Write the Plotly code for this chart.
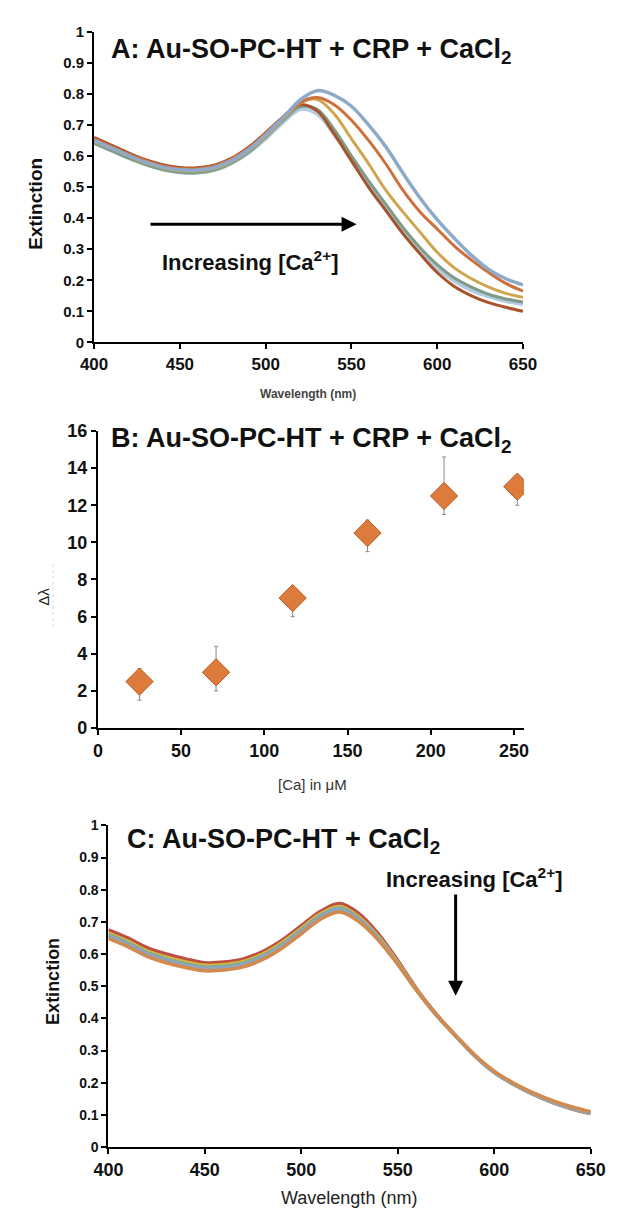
import plotly.graph_objects as go

W, H = 618, 1217

# ---------------- Panel A data ----------------
wl = [400, 410, 420, 430, 440, 450, 460, 470, 480, 490, 500, 510, 520,
      530, 540, 550, 560, 570, 580, 590, 600, 610, 620, 630, 640, 650]

a_lblue = [0.645, 0.620, 0.596, 0.575, 0.558, 0.550, 0.548, 0.556, 0.578, 0.612, 0.658, 0.710, 0.752,
           0.738, 0.672, 0.590, 0.505, 0.430, 0.360, 0.295, 0.240, 0.200, 0.170, 0.150, 0.135, 0.125]
a_brown = [0.660, 0.635, 0.610, 0.588, 0.572, 0.563, 0.562, 0.570, 0.592, 0.628, 0.675, 0.725, 0.765,
           0.745, 0.670, 0.585, 0.500, 0.425, 0.350, 0.285, 0.225, 0.180, 0.150, 0.128, 0.113, 0.100]
a_green = [0.640, 0.617, 0.593, 0.572, 0.556, 0.547, 0.546, 0.555, 0.577, 0.612, 0.660, 0.713, 0.758,
           0.750, 0.685, 0.600, 0.520, 0.445, 0.370, 0.305, 0.250, 0.207, 0.178, 0.155, 0.140, 0.130]
a_gold = [0.648, 0.624, 0.600, 0.578, 0.562, 0.553, 0.552, 0.560, 0.582, 0.617, 0.664, 0.718, 0.770,
          0.782, 0.735, 0.655, 0.575, 0.490, 0.420, 0.355, 0.290, 0.240, 0.205, 0.178, 0.158, 0.145]
a_orange = [0.655, 0.630, 0.606, 0.585, 0.568, 0.560, 0.559, 0.567, 0.590, 0.625, 0.672, 0.724, 0.772,
            0.788, 0.765, 0.715, 0.650, 0.575, 0.490, 0.420, 0.365, 0.310, 0.265, 0.225, 0.190, 0.165]
a_steel = [0.650, 0.626, 0.602, 0.580, 0.564, 0.556, 0.555, 0.563, 0.585, 0.620, 0.668, 0.722, 0.780,
           0.810, 0.795, 0.760, 0.700, 0.630, 0.545, 0.465, 0.395, 0.335, 0.280, 0.235, 0.205, 0.185]

# ---------------- Panel B data ----------------
ca_conc = [25, 71, 117, 162, 208, 252]
d_lambda = [2.5, 3.0, 7.0, 10.5, 12.5, 13.0]
err_plus = [0.7, 1.4, 0.5, 0.7, 2.1, 0.5]
err_minus = [1.0, 1.0, 1.0, 1.0, 1.0, 1.0]

# ---------------- Panel C data ----------------
c_red = [0.675, 0.650, 0.620, 0.600, 0.585, 0.573, 0.575, 0.585, 0.608, 0.643, 0.688, 0.733, 0.757,
         0.725, 0.662, 0.580, 0.490, 0.413, 0.346, 0.283, 0.232, 0.195, 0.164, 0.139, 0.119, 0.104]
c_gold = [0.665, 0.640, 0.610, 0.590, 0.575, 0.565, 0.567, 0.577, 0.600, 0.635, 0.680, 0.725, 0.748,
          0.715, 0.654, 0.575, 0.487, 0.411, 0.345, 0.283, 0.232, 0.195, 0.165, 0.140, 0.120, 0.105]
c_green = [0.660, 0.635, 0.605, 0.585, 0.570, 0.560, 0.562, 0.572, 0.595, 0.630, 0.675, 0.720, 0.743,
           0.710, 0.650, 0.572, 0.486, 0.410, 0.345, 0.283, 0.232, 0.195, 0.165, 0.140, 0.120, 0.105]
c_steel = [0.656, 0.631, 0.601, 0.581, 0.566, 0.556, 0.558, 0.568, 0.591, 0.626, 0.671, 0.716, 0.739,
           0.707, 0.648, 0.570, 0.485, 0.410, 0.345, 0.283, 0.233, 0.196, 0.166, 0.141, 0.121, 0.106]
c_orange = [0.648, 0.623, 0.593, 0.573, 0.558, 0.548, 0.550, 0.560, 0.583, 0.618, 0.663, 0.708, 0.731,
            0.700, 0.643, 0.568, 0.485, 0.411, 0.347, 0.286, 0.236, 0.199, 0.169, 0.145, 0.125, 0.110]

ext_ticks = [0, 0.1, 0.2, 0.3, 0.4, 0.5, 0.6, 0.7, 0.8, 0.9, 1]
ext_text = ["0", "0.1", "0.2", "0.3", "0.4", "0.5", "0.6", "0.7", "0.8", "0.9", "1"]
wl_ticks = [400, 450, 500, 550, 600, 650]
ca_ticks = [0, 50, 100, 150, 200, 250]
dl_ticks = [0, 2, 4, 6, 8, 10, 12, 14, 16]

FONT = "Liberation Sans, Arial, sans-serif"


def px_x(p):
    return p / W


def px_y(p):
    return 1 - p / H


fig = go.Figure()

# Panel A traces
a_series = [(a_lblue, "#b3cbe3", 5), (a_green, "#7f9c88", 3), (a_brown, "#a9532b", 3),
            (a_gold, "#cfa64f", 3), (a_orange, "#cf6f3b", 3), (a_steel, "#8eaacb", 3.5)]
for ys, col, lw in a_series:
    fig.add_trace(go.Scatter(x=wl, y=ys, mode="lines", line=dict(color=col, width=lw, shape="spline"),
                             xaxis="x", yaxis="y", showlegend=False, hoverinfo="skip"))

# Panel B trace
fig.add_trace(go.Scatter(
    x=ca_conc, y=d_lambda, mode="markers",
    marker=dict(symbol="diamond", size=21, color="#dc7b3c", line=dict(color="#b85c24", width=1)),
    error_y=dict(type="data", array=err_plus, arrayminus=err_minus, color="#8a8a8a", thickness=1, width=2),
    xaxis="x2", yaxis="y2", showlegend=False, hoverinfo="skip"))

# Panel C traces
c_series = [(c_red, "#bf4f43"), (c_gold, "#d2bb3d"), (c_green, "#86a892"),
            (c_steel, "#8ea5bd"), (c_orange, "#d28a4f")]
for ys, col in c_series:
    fig.add_trace(go.Scatter(x=wl, y=ys, mode="lines", line=dict(color=col, width=3.5, shape="spline"),
                             xaxis="x3", yaxis="y3", showlegend=False, hoverinfo="skip"))

axis_common = dict(showgrid=False, zeroline=False, showline=True, linecolor="black", linewidth=2,
                   ticks="outside", ticklen=5, tickwidth=2, tickcolor="black")

fig.update_layout(
    width=W, height=H,
    margin=dict(l=0, r=0, t=0, b=0),
    paper_bgcolor="white", plot_bgcolor="white",
    font=dict(family=FONT, color="#111"),
    xaxis=dict(domain=[px_x(83), px_x(533)], range=[400, 650], anchor="y",
               tickvals=wl_ticks, tickfont=dict(size=17, family=FONT, weight="bold"), **axis_common),
    yaxis=dict(domain=[px_y(338), px_y(22)], range=[0, 1], anchor="x",
               tickvals=ext_ticks, ticktext=ext_text,
               tickfont=dict(size=15, family=FONT, weight="bold"), **axis_common),
    xaxis2=dict(domain=[px_x(87), px_x(534)], range=[0, 256], anchor="y2",
                tickvals=ca_ticks, tickfont=dict(size=18, family=FONT, weight="bold"), **axis_common),
    yaxis2=dict(domain=[px_y(730), px_y(428)], range=[0, 16], anchor="x2",
                tickvals=dl_ticks, tickfont=dict(size=18, family=FONT, weight="bold"), **axis_common),
    xaxis3=dict(domain=[px_x(98), px_x(604)], range=[400, 650], anchor="y3",
                tickvals=wl_ticks, tickfont=dict(size=18, family=FONT, weight="bold"), **axis_common),
    yaxis3=dict(domain=[px_y(1156), px_y(829)], range=[0, 1], anchor="x3",
                tickvals=ext_ticks, ticktext=ext_text,
                tickfont=dict(size=14, family=FONT, weight="bold"), **axis_common),
)

ann = []


def paper_text(text, x, y, size, bold=True, color="#111", angle=0, xanchor="center"):
    ann.append(dict(text=text, x=px_x(x), y=px_y(y), xref="paper", yref="paper", showarrow=False,
                    xanchor=xanchor, yanchor="middle", textangle=angle,
                    font=dict(size=size, family=FONT, color=color, weight="bold" if bold else "normal")))


# Titles
paper_text("A: Au-SO-PC-HT + CRP + CaCl<sub>2</sub>", 99, 42, 27, xanchor="left")
paper_text("B: Au-SO-PC-HT + CRP + CaCl<sub>2</sub>", 99, 437, 27, xanchor="left")
paper_text("C: Au-SO-PC-HT + CaCl<sub>2</sub>", 115, 845, 27, xanchor="left")

# Axis titles
paper_text("Extinction", 22, 197, 19, angle=-90)
paper_text("Wavelength (nm)", 307, 390, 12, color="#444")
paper_text("\u0394\u03bb", 30, 597, 15, bold=False, angle=-90, color="#222")
paper_text("[Ca] in \u03bcM", 312, 787, 15, bold=False, color="#333")
paper_text("Extinction", 40, 988, 18, angle=-90)
paper_text("Wavelength (nm)", 350, 1208, 18, bold=False, color="#222")

# Increasing labels (data coordinates)
ann.append(dict(text="Increasing [Ca<sup>2+</sup>]", x=491, y=0.262, xref="x", yref="y", showarrow=False,
                font=dict(size=22, family=FONT, color="#111", weight="bold")))
ann.append(dict(text="Increasing [Ca<sup>2+</sup>]", x=590, y=0.835, xref="x3", yref="y3", showarrow=False,
                font=dict(size=22, family=FONT, color="#111", weight="bold")))

# Arrows
ann.append(dict(text="", x=553, y=0.38, ax=432, ay=0.38, xref="x", yref="y", axref="x", ayref="y",
                showarrow=True, arrowhead=2, arrowsize=1, arrowwidth=3, arrowcolor="black"))
ann.append(dict(text="", x=580, y=0.47, ax=580, ay=0.79, xref="x3", yref="y3", axref="x3", ayref="y3",
                showarrow=True, arrowhead=2, arrowsize=1, arrowwidth=3, arrowcolor="black"))

fig.update_layout(annotations=ann)

# faint dotted artifact line next to the delta-lambda label
fig.add_shape(type="line", xref="paper", yref="paper", x0=px_x(40), x1=px_x(40), y0=px_y(563), y1=px_y(630),
              line=dict(color="#d8d8d8", width=1, dash="dot"))

fig.write_html("out.html")
